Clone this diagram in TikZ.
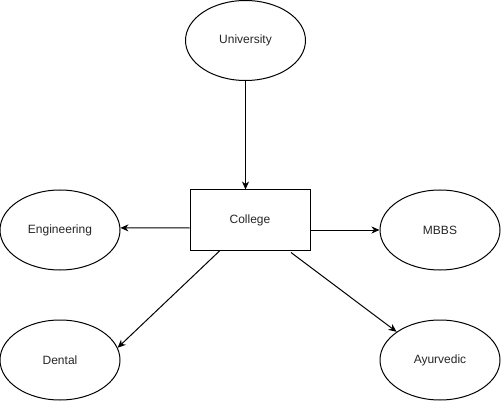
\documentclass[tikz,border=0pt]{standalone}
\usepackage{fontspec}
\setmainfont{Liberation Sans}
\usetikzlibrary{shapes.geometric,arrows.meta,calc}
\begin{document}
\begin{tikzpicture}[x=1pt,y=-1pt,
  every node/.style={font=\fontsize{12}{14}\selectfont, text=black!85, line width=1pt, draw=black, inner sep=0pt},
  oval/.style={ellipse, minimum width=120pt, minimum height=80pt},
  boxnode/.style={rectangle, minimum width=120pt, minimum height=60pt},
  link/.style={line width=1pt, -{Stealth[length=8pt,width=7pt,inset=2.5pt]}}]
\fill[white] (0,0) rectangle (501,401);
\useasboundingbox (0,0) rectangle (501,401);
\node[oval] (univ) at (245.5,40.5) {University};
\node[boxnode] (college) at (250,220) {College};
\node[oval] (eng) at (60,230) {Engineering};
\node[oval] (mbbs) at (440,230) {MBBS};
\node[oval] (dental) at (60,360) {Dental};
\node[oval] (ayur) at (440,360) {Ayurvedic};
\draw[link] (univ.south) -- (univ.south |- college.north);
\draw[link] ($(college.west)+(0,8)$) -- (eng.2);
\draw[link] (college.east |- mbbs.west) -- (mbbs.west);
\draw[link] ($(college.south)+(-30,0)$) -- (dental.12);
\draw[link] ($(college.south)+(41,2)$) -- (ayur.147);
\end{tikzpicture}
\end{document}
